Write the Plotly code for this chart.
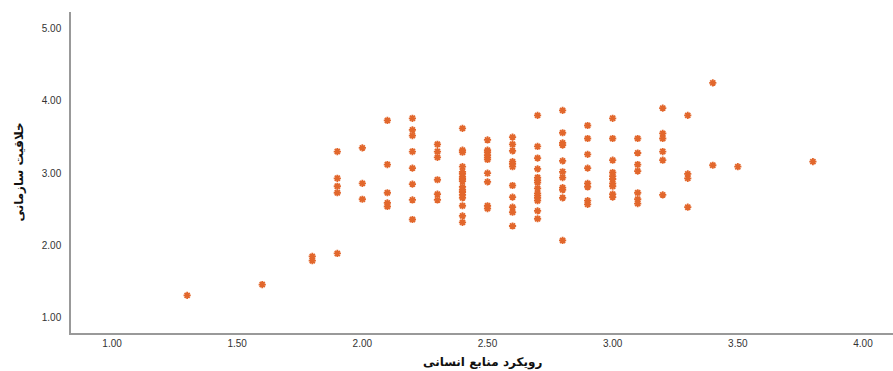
import plotly.graph_objects as go

# x column values and corresponding y values
y_1_3 = [1.31]
y_1_6 = [1.46]
y_1_8 = [1.85, 1.79]
y_1_9 = [3.30, 2.93, 2.82, 2.73, 1.89]
y_2_0 = [3.35, 2.86, 2.64]
y_2_1 = [3.73, 3.12, 2.73, 2.59, 2.54]
y_2_2 = [3.76, 3.60, 3.52, 3.30, 3.07, 2.85, 2.63, 2.36]
y_2_3 = [3.40, 3.30, 3.22, 2.91, 2.71, 2.63]
y_2_4 = [3.62, 3.32, 3.29, 3.09, 3.02, 2.99, 2.95, 2.92, 2.89, 2.81, 2.77, 2.74, 2.70, 2.66, 2.55, 2.41, 2.32]
y_2_5 = [3.46, 3.32, 3.29, 3.25, 3.22, 3.19, 3.00, 2.88, 2.55, 2.51]
y_2_6 = [3.50, 3.40, 3.31, 3.16, 3.13, 3.09, 2.83, 2.67, 2.53, 2.46, 2.27]
y_2_7 = [3.80, 3.37, 3.21, 3.06, 2.94, 2.90, 2.87, 2.79, 2.72, 2.69, 2.66, 2.62, 2.48, 2.37]
y_2_8 = [3.87, 3.56, 3.42, 3.39, 3.17, 3.02, 2.94, 2.80, 2.77, 2.66, 2.07]
y_2_9 = [3.66, 3.48, 3.26, 3.07, 2.86, 2.81, 2.62, 2.57]
y_3_0 = [3.76, 3.48, 3.18, 3.01, 2.96, 2.92, 2.86, 2.82, 2.71, 2.67]
y_3_1 = [3.48, 3.28, 3.12, 3.03, 2.73, 2.64, 2.58]
y_3_2 = [3.90, 3.55, 3.48, 3.30, 3.18, 2.70]
y_3_3 = [3.80, 2.99, 2.93, 2.53]
y_3_4 = [4.25, 3.11]
y_3_5 = [3.09]
y_3_8 = [3.16]

columns = [
    (1.3, y_1_3), (1.6, y_1_6), (1.8, y_1_8), (1.9, y_1_9), (2.0, y_2_0),
    (2.1, y_2_1), (2.2, y_2_2), (2.3, y_2_3), (2.4, y_2_4), (2.5, y_2_5),
    (2.6, y_2_6), (2.7, y_2_7), (2.8, y_2_8), (2.9, y_2_9), (3.0, y_3_0),
    (3.1, y_3_1), (3.2, y_3_2), (3.3, y_3_3), (3.4, y_3_4), (3.5, y_3_5),
    (3.8, y_3_8),
]

xs, ys = [], []
for xv, yl in columns:
    for yv in yl:
        xs.append(xv)
        ys.append(yv)

x_ticks = [1.0, 1.5, 2.0, 2.5, 3.0, 3.5, 4.0]
y_ticks = [1.0, 2.0, 3.0, 4.0, 5.0]
x_title = "رویکرد منابع انسانی"
y_title = "خلاقیت سازمانی"

fig = go.Figure(go.Scatter(
    x=xs, y=ys, mode="markers",
    marker=dict(symbol="asterisk-open", size=6, color="#E2672C",
                line=dict(color="#E2672C", width=1.8)),
    hoverinfo="x+y",
))

axis_font = dict(family="Liberation Sans, Arial, sans-serif", size=10, color="#333333")
title_font = dict(family="DejaVu Sans, Noto Sans, sans-serif", size=12, color="#111111")

fig.update_layout(
    width=893, height=371,
    margin=dict(l=71, r=0, t=12, b=38, autoexpand=False),
    plot_bgcolor="white", paper_bgcolor="white",
    showlegend=False,
    xaxis=dict(
        range=[0.836, 4.12], tickvals=x_ticks,
        ticktext=[f"{v:.2f}" for v in x_ticks],
        showgrid=False, zeroline=False, showline=True,
        linecolor="#999999", linewidth=1.5, ticks="",
        tickfont=axis_font, automargin=False,
    ),
    yaxis=dict(
        range=[0.79, 5.23], tickvals=y_ticks,
        ticktext=[f"{v:.2f}" for v in y_ticks],
        showgrid=False, zeroline=False, showline=True,
        linecolor="#999999", linewidth=1.5, ticks="",
        tickfont=axis_font, ticklabelstandoff=6, automargin=False,
    ),
    annotations=[
        dict(text="<b>" + x_title + "</b>", xref="paper", yref="paper",
             x=0.5, y=0, xanchor="center", yanchor="middle", yshift=-29,
             showarrow=False, font=title_font),
        dict(text="<b>" + y_title + "</b>", xref="paper", yref="paper",
             x=0, y=0.5, xanchor="center", yanchor="middle", xshift=-53,
             textangle=-90, showarrow=False, font=title_font),
    ],
)

fig.write_html(
    "out.html",
    config={"displayModeBar": False},
    post_script="document.body.style.margin='0';document.body.style.overflow='hidden';",
)
